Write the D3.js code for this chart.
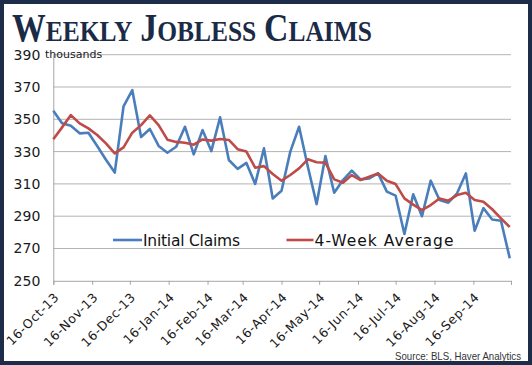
<!DOCTYPE html>
<html>
<head>
<meta charset="utf-8">
<script src="https://cdn.jsdelivr.net/npm/d3@7"></script>
<style>
  html, body { margin: 0; padding: 0; background: #fff; }
  svg { display: block; }
</style>
</head>
<body>
<svg id="chart" width="532" height="365"></svg>
<script>
// ---------- data ----------
const startDate = "2013-10-16";          // first weekly observation
const initialClaims = [355.3, 347.5, 346, 341.3, 341.7, 333.5, 325, 317, 358, 368, 339, 344, 333.5,
  329.3, 333, 345.4, 328.3, 343.3, 330.3, 351.2, 324.8, 319.3, 323, 310, 332, 301, 305.8,
  330, 345.4, 320.6, 297.5, 327.3, 304.5, 312.4, 318.2, 312.8, 313.4, 316.5, 305.2, 302.7,
  279, 303.6, 290, 312, 300, 298.4, 304.2, 316.5, 281, 295, 288, 287.2, 264];
const fourWeekAvg = [337.6, 345, 352.6, 347.5, 344.4, 340.3, 335.1, 328.9, 332.6, 341.7, 346.4, 352.4, 346.4,
  337.4, 336, 335.5, 334.3, 337.5, 336.8, 337.8, 337.2, 331.5, 330, 320, 321, 316.1, 312,
  315.5, 319.6, 325.2, 323.4, 323.2, 312.8, 310.7, 315.5, 312.4, 314.4, 316.5, 312, 309.9,
  301, 297.2, 293.8, 296.9, 301, 299.6, 303.1, 304.5, 300, 299, 294.3, 288.7, 283.3];
const tickLabels = ["16-Oct-13", "16-Nov-13", "16-Dec-13", "16-Jan-14", "16-Feb-14", "16-Mar-14",
  "16-Apr-14", "16-May-14", "16-Jun-14", "16-Jul-14", "16-Aug-14", "16-Sep-14"];
const axisEndLabel = "16-Oct-14";
const yTicks = [250, 270, 290, 310, 330, 350, 370, 390];
const seriesNames = ["Initial Claims", "4-Week Average"];

// ---------- setup ----------
(function () {
const svg = d3.select("#chart");
const W = 532, H = 365;
const parse = d3.timeParse("%d-%b-%y");
const t0 = d3.timeParse("%Y-%m-%d")(startDate);
const dates = initialClaims.map((_, i) => d3.timeDay.offset(t0, 7 * i));
const tickDates = tickLabels.map(parse);
const endDate = parse(axisEndLabel);

const pL = 53.3, pR = 511, pT = 54.7, pB = 280.8;
const x = d3.scaleTime().domain([tickDates[0], endDate]).range([pL, pR]);
const y = d3.scaleLinear().domain([250, 390]).range([pB, pT]);

// background + frame
svg.append("rect").attr("x", 0).attr("y", 0).attr("width", W).attr("height", H).attr("fill", "#fff");
svg.append("rect").attr("x", 2).attr("y", 2).attr("width", W - 4).attr("height", H - 4)
  .attr("fill", "none").attr("stroke", "#1d2d49").attr("stroke-width", 4);

// title (small caps), built from adjacent pieces, then scaled to width
const tg = svg.append("g");
const pieces = [["W", 39], ["EEKLY", 29.5], ["J", 39], ["OBLESS", 29.5], ["C", 39], ["LAIMS", 29.5]];
let cx = 0;
pieces.forEach(([s, f], i) => {
  const t = tg.append("text").attr("x", cx).attr("y", 0)
    .attr("font-family", "'Liberation Serif', 'DejaVu Serif', serif").attr("font-weight", "bold")
    .attr("font-size", f).attr("fill", "#1b2b47").text(s);
  cx += t.node().getComputedTextLength() + (i % 2 === 1 ? 9 : 0);
});
const tw = cx - 9;
tg.attr("transform", `translate(12,40.5) scale(${360 / tw},1)`);

// gridlines
svg.append("g").selectAll("line").data(yTicks.filter(d => d !== 250)).join("line")
  .attr("x1", pL).attr("x2", pR)
  .attr("y1", d => y(d)).attr("y2", d => y(d))
  .attr("stroke", "#b3b3b3").attr("stroke-width", 1);

// y axis
const yAxis = svg.append("g").attr("transform", `translate(${pL},0)`)
  .call(d3.axisLeft(y).tickValues(yTicks).tickSize(0).tickPadding(13));
yAxis.select(".domain").attr("stroke", "#a6a6a6");
yAxis.selectAll("text").attr("font-family", "'DejaVu Sans', sans-serif").attr("font-size", 14)
  .attr("fill", "#1a1a1a");
svg.append("text").attr("x", 45).attr("y", y(390)).attr("dy", "0.32em")
  .attr("font-family", "'DejaVu Sans', sans-serif").attr("font-size", 11).attr("fill", "#1a1a1a")
  .text("thousands");

// x axis
const xAxis = svg.append("g").attr("transform", `translate(0,${pB})`)
  .call(d3.axisBottom(x).tickValues(tickDates.concat([endDate])).tickSize(4)
    .tickFormat((d, i) => i < tickLabels.length ? tickLabels[i] : ""));
xAxis.select(".domain").attr("stroke", "#a6a6a6");
xAxis.selectAll(".tick line").attr("stroke", "#a6a6a6");
xAxis.selectAll(".tick text")
  .attr("font-family", "'DejaVu Sans', sans-serif").attr("font-size", 12.5).attr("fill", "#1a1a1a")
  .attr("letter-spacing", 0.6)
  .attr("text-anchor", "end").attr("dy", "0.35em")
  .attr("transform", "translate(3,14) rotate(-45)").attr("y", 0).attr("x", 0);

// lines
const line = vals => d3.line().x((d, i) => x(dates[i])).y(d => y(d))(vals);
svg.append("path").attr("d", line(initialClaims)).attr("fill", "none")
  .attr("stroke", "#4a7ebb").attr("stroke-width", 2.6).attr("stroke-linejoin", "round");
svg.append("path").attr("d", line(fourWeekAvg)).attr("fill", "none")
  .attr("stroke", "#be4b48").attr("stroke-width", 2.6).attr("stroke-linejoin", "round");

// legend
const legend = [{ name: seriesNames[0], color: "#4a7ebb", x1: 113, x2: 142, len: 97 },
                { name: seriesNames[1], color: "#be4b48", x1: 286.5, x2: 313.5, len: 139 }];
legend.forEach(l => {
  svg.append("line").attr("x1", l.x1).attr("x2", l.x2).attr("y1", 240).attr("y2", 240)
    .attr("stroke", l.color).attr("stroke-width", 2.6);
  svg.append("text").attr("x", l.x2 + 1).attr("y", 246)
    .attr("font-family", "'DejaVu Sans', sans-serif").attr("font-size", 15.5).attr("fill", "#111")
    .attr("textLength", l.len).attr("lengthAdjust", "spacing")
    .text(l.name);
});

// source
svg.append("text").attr("x", 395).attr("y", 359.5)
  .attr("font-family", "'Liberation Sans', sans-serif").attr("font-size", 10.5).attr("fill", "#333")
  .attr("textLength", 126).attr("lengthAdjust", "spacingAndGlyphs")
  .text("Source:  BLS, Haver Analytics");
})();
</script>
</body>
</html>
